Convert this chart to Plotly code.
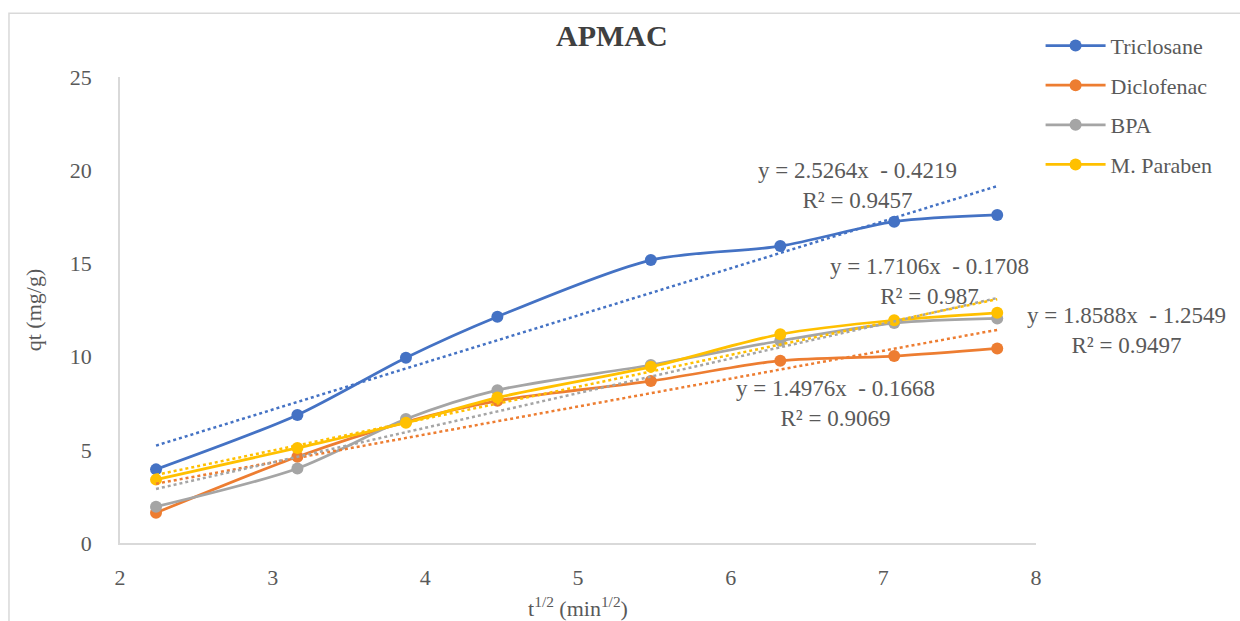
import plotly.graph_objects as go

# ---- data ----
x_vals = [2.236, 3.162, 3.873, 4.472, 5.477, 6.325, 7.071, 7.746]
triclosane = [3.95, 6.87, 9.94, 12.14, 15.18, 15.93, 17.24, 17.6]
diclofenac = [1.62, 4.63, 6.5, 7.63, 8.69, 9.78, 10.03, 10.44]
bpa = [1.95, 4.0, 6.65, 8.2, 9.55, 10.85, 11.8, 12.05]
m_paraben = [3.4, 5.1, 6.45, 7.8, 9.45, 11.2, 11.95, 12.35]

series_names = ["Triclosane", "Diclofenac", "BPA", "M. Paraben"]
series_values = [triclosane, diclofenac, bpa, m_paraben]
series_colors = ["#4472C4", "#ED7D31", "#A5A5A5", "#FFC000"]

# trendline coefficients (from the chart labels)
slopes = [2.5264, 1.4976, 1.8588, 1.7106]
intercepts = [-0.4219, -0.1668, -1.2549, -0.1708]
r2_values = ["0.9457", "0.9069", "0.9497", "0.987"]
eq_pos = [(0.8046, 0.768), (0.781, 0.299), (1.099, 0.457), (0.884, 0.562)]

x_ticks = [2, 3, 4, 5, 6, 7, 8]
y_ticks = [0, 5, 10, 15, 20, 25]

FONT = "Liberation Serif"
TXT = "#595959"

fig = go.Figure()

for i, (name, vals, col) in enumerate(zip(series_names, series_values, series_colors)):
    fig.add_trace(go.Scatter(
        x=x_vals, y=vals, name=name, mode="lines+markers",
        line=dict(color=col, width=2.75, shape="spline", smoothing=0.8),
        marker=dict(color=col, size=12),
        legendgroup=name,
    ))

for i, (m, b, col) in enumerate(zip(slopes, intercepts, series_colors)):
    xs = [x_vals[0], x_vals[-1]]
    ys = [m * xv + b for xv in xs]
    fig.add_trace(go.Scatter(
        x=xs, y=ys, mode="lines", showlegend=False, hoverinfo="skip",
        line=dict(color=col, width=2.5, dash="dot"),
    ))

for (m, b, r2, (ax, ay)) in zip(slopes, intercepts, r2_values, eq_pos):
    sign = "-" if b < 0 else "+"
    txt = f"y = {m:.4f}x  {sign} {abs(b):.4f}<br>R² = {r2}"
    fig.add_annotation(x=ax, y=ay, xref="paper", yref="paper", text=txt,
                       showarrow=False, xanchor="center", yanchor="middle",
                       align="center", font=dict(family=FONT, size=23, color=TXT))

# outer chart border
fig.add_shape(type="rect", xref="paper", yref="paper",
              x0=-0.1212, x1=1.234, y0=-0.187, y1=1.137,
              line=dict(color="#D9D9D9", width=1.5), fillcolor="rgba(0,0,0,0)", layer="below")

fig.update_layout(
    width=1240, height=621,
    margin=dict(l=120, r=204, t=77, b=78, autoexpand=False),
    paper_bgcolor="white", plot_bgcolor="white",
    font=dict(family=FONT, color=TXT),
    title=dict(text="<b>APMAC</b>", x=0.537, xref="paper", xanchor="center",
               y=1 - 35 / 621, yref="container", yanchor="middle",
               font=dict(family=FONT, size=30, color="#404040")),
    showlegend=True,
    legend=dict(x=1.005, xanchor="left", y=1.112, yanchor="top",
                font=dict(family=FONT, size=22, color=TXT),
                itemwidth=60, tracegroupgap=8, bgcolor="rgba(0,0,0,0)"),
    xaxis=dict(range=[2, 8], tickvals=x_ticks, showgrid=False, zeroline=False,
               showline=True, linecolor="#D9D9D9", linewidth=1.5,
               ticks="", ticklabelstandoff=14,
               tickfont=dict(family=FONT, size=22, color=TXT),
               title=dict(text="t<sup>1/2</sup> (min<sup>1/2</sup>)",
                          font=dict(family=FONT, size=22, color=TXT), standoff=15)),
    yaxis=dict(range=[0, 25], tickvals=y_ticks, showgrid=False, zeroline=False,
               showline=True, linecolor="#D9D9D9", linewidth=1.5,
               ticks="", ticklabelstandoff=22,
               tickfont=dict(family=FONT, size=22, color=TXT),
               title=dict(text="qt (mg/g)",
                          font=dict(family=FONT, size=22, color=TXT), standoff=22)),
)

fig.write_html("out.html", config={"displayModeBar": False},
               post_script="document.body.style.margin='0';")
